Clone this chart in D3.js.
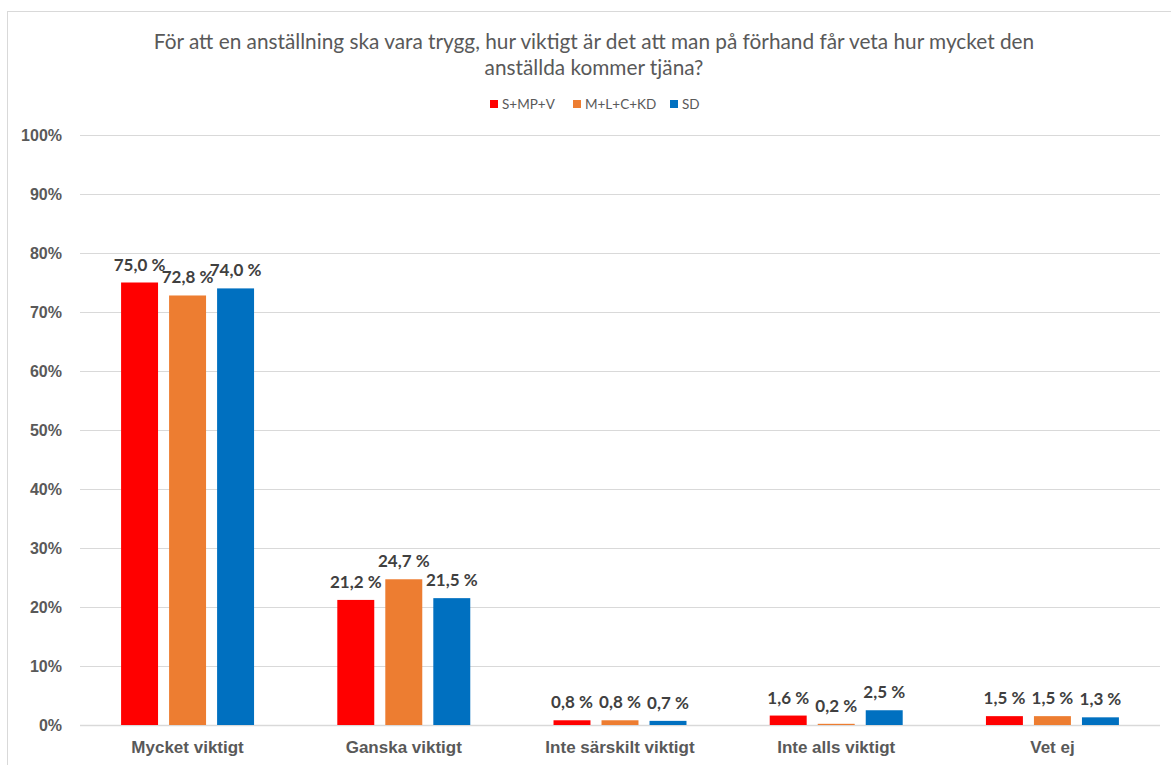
<!DOCTYPE html>
<html>
<head>
<meta charset="utf-8">
<script src="https://cdn.jsdelivr.net/npm/d3@7"></script>
<style>
  body { margin: 0; background: #fff; }
  svg { display: block; font-family: Lato, "Open Sans", sans-serif; }
  .title { font-size: 20.8px; fill: #595959; }
  .legend text { font-size: 13.5px; fill: #595959; }
  .axis text { font-size: 16px; font-weight: bold; fill: #595959; }
  .xaxis text { font-size: 17px; font-weight: bold; fill: #595959; }
  .label { font-size: 17px; font-weight: bold; fill: #404040; }
</style>
</head>
<body>
<svg></svg>
<script>
const categories = ["Mycket viktigt", "Ganska viktigt", "Inte särskilt viktigt", "Inte alls viktigt", "Vet ej"];
const seriesNames = ["S+MP+V", "M+L+C+KD", "SD"];
const seriesColors = ["#ff0000", "#ed7d31", "#0070c0"];
const sMPV = [75.0, 21.2, 0.8, 1.6, 1.5];
const mLCKD = [72.8, 24.7, 0.8, 0.2, 1.5];
const sd = [74.0, 21.5, 0.7, 2.5, 1.3];
const yTicks = [0, 10, 20, 30, 40, 50, 60, 70, 80, 90, 100];
const titleLines = [
  "För att en anställning ska vara trygg, hur viktigt är det att man på förhand får veta hur mycket den",
  "anställda kommer tjäna?"
];

function drawChart() {
    const svgWidth = 1171, svgHeight = 765;
    const margin = { top: 135, right: 11, bottom: 40, left: 80 };
    const width = svgWidth - margin.left - margin.right;
    const height = 725 - margin.top;
    const seriesValues = [sMPV, mLCKD, sd];

    const svg = d3.select("svg")
        .attr("width", svgWidth)
        .attr("height", svgHeight);

    // chart border
    svg.append("rect")
        .attr("x", 7.5).attr("y", 11.5)
        .attr("width", svgWidth).attr("height", svgHeight)
        .attr("fill", "none")
        .attr("stroke", "#d9d9d9");

    // title
    svg.append("g").selectAll("text")
        .data(titleLines)
        .join("text")
        .attr("class", "title")
        .attr("x", 594)
        .attr("y", (d, i) => 49 + i * 26)
        .attr("text-anchor", "middle")
        .text(d => d);

    // legend
    const legendX = [490, 573, 670];
    const legend = svg.append("g").attr("class", "legend");
    seriesNames.forEach((name, i) => {
        legend.append("rect")
            .attr("x", legendX[i]).attr("y", 100)
            .attr("width", 8).attr("height", 8)
            .attr("fill", seriesColors[i]);
        legend.append("text")
            .attr("x", legendX[i] + 12).attr("y", 109)
            .text(name);
    });

    const g = svg.append("g")
        .attr("transform", `translate(${margin.left}, ${margin.top})`);

    const x0 = d3.scaleBand()
        .domain(categories)
        .range([0, width])
        .paddingInner(0.385)
        .paddingOuter(0.19);

    const x1 = d3.scaleBand()
        .domain(seriesNames)
        .range([0, x0.bandwidth()])
        .paddingInner(0.23);

    const y = d3.scaleLinear()
        .domain([0, 100])
        .range([height, 0]);

    // gridlines
    g.append("g")
        .selectAll("line")
        .data(yTicks)
        .join("line")
        .attr("x1", 0).attr("x2", width)
        .attr("y1", d => Math.round(y(d)) + 0.5)
        .attr("y2", d => Math.round(y(d)) + 0.5)
        .attr("stroke", "#d9d9d9")
        .attr("stroke-width", d => d === 0 ? 1.5 : 1);

    // y axis
    const yAxis = g.append("g")
        .attr("class", "axis")
        .call(d3.axisLeft(y).tickValues(yTicks).tickSize(0).tickPadding(18).tickFormat(d => d + "%"));
    yAxis.select(".domain").remove();

    // x axis
    const xAxis = g.append("g")
        .attr("class", "xaxis")
        .attr("transform", `translate(0, ${height})`)
        .call(d3.axisBottom(x0).tickSize(0).tickPadding(16));
    xAxis.select(".domain").remove();

    // bars
    const groups = g.selectAll(".group")
        .data(categories)
        .join("g")
        .attr("class", "group")
        .attr("transform", d => `translate(${x0(d)}, 0)`);

    groups.selectAll("rect")
        .data((c, ci) => seriesNames.map((s, si) => ({ s, si, v: seriesValues[si][ci] })))
        .join("rect")
        .attr("x", d => x1(d.s))
        .attr("y", d => y(d.v))
        .attr("width", x1.bandwidth())
        .attr("height", d => height - y(d.v))
        .attr("fill", d => seriesColors[d.si]);

    groups.selectAll("text")
        .data((c, ci) => seriesNames.map((s, si) => ({ s, si, v: seriesValues[si][ci] })))
        .join("text")
        .attr("class", "label")
        .attr("x", d => x1(d.s) + x1.bandwidth() / 2)
        .attr("y", d => y(d.v) - 12)
        .attr("text-anchor", "middle")
        .text(d => d3.format(".1f")(d.v).replace(".", ",") + " %");
}

drawChart();
</script>
</body>
</html>
